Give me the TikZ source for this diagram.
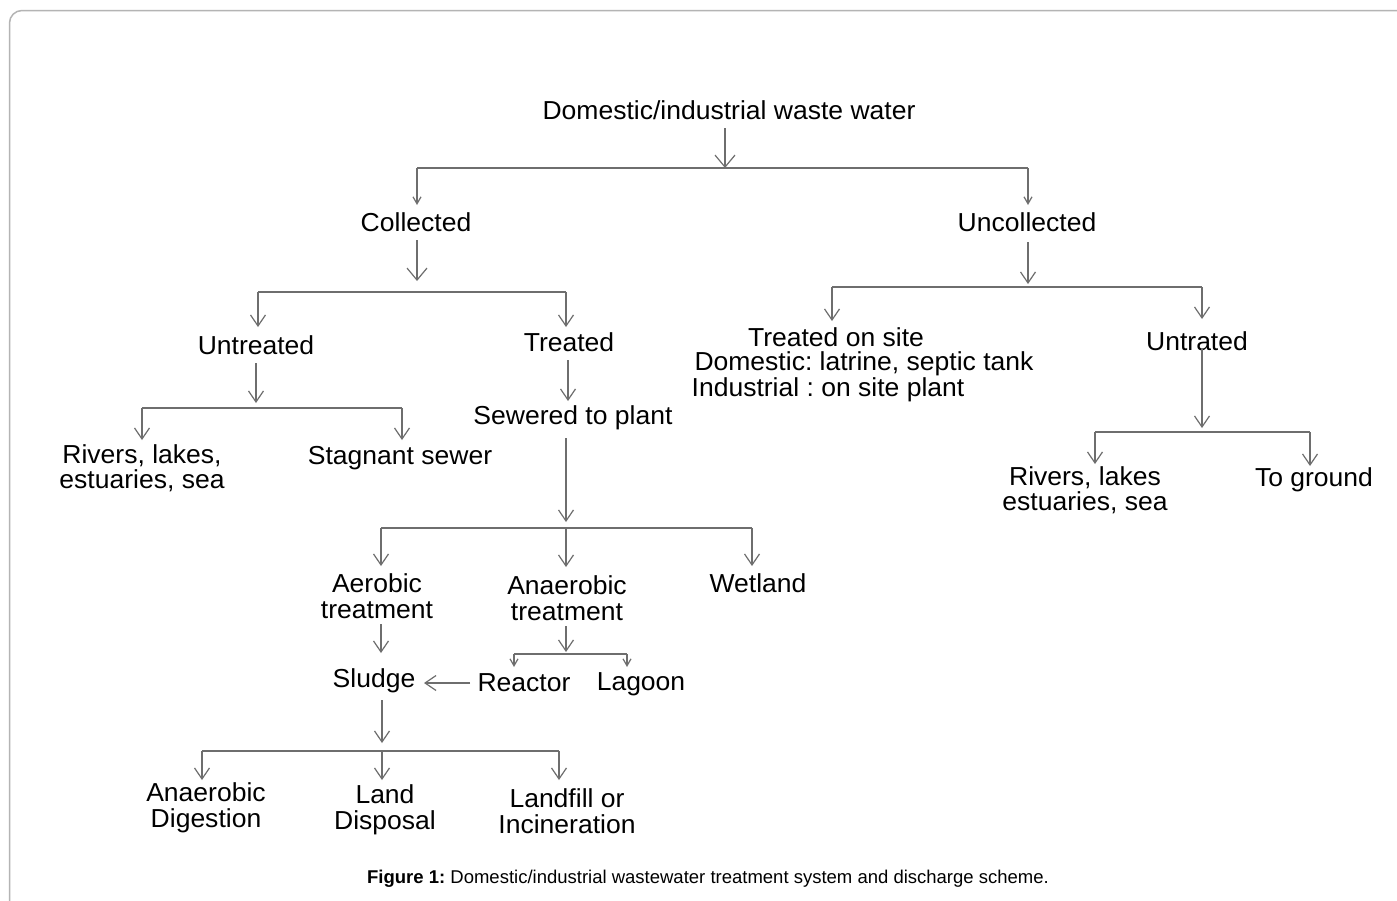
\documentclass[tikz,border=0pt]{standalone}
\usepackage{fontspec}
\setmainfont{Liberation Sans}[FakeStretch=1.02]
\newfontfamily\capfont{Liberation Sans}
\usetikzlibrary{arrows.meta}
\definecolor{ln}{HTML}{6E6E6E}
\definecolor{frm}{HTML}{B4B4B4}
\frenchspacing
\tikzset{
  lbl/.style={inner sep=0pt, align=center, font=\fontsize{26}{25.5}\selectfont},
  bus/.style={draw=ln, line width=1.3pt},
  bigarr/.style={draw=ln, line width=1.3pt, -{Straight Barb[length=12pt,width=20pt,line width=1.2pt]}},
  midarr/.style={draw=ln, line width=1.3pt, -{Straight Barb[length=11pt,width=15pt,line width=1.2pt]}},
  smallarr/.style={draw=ln, line width=1.3pt, -{Straight Barb[length=7pt,width=8pt,line width=1.2pt]}},
}
\begin{document}
\begin{tikzpicture}[x=1pt,y=-1pt]
\useasboundingbox (0,0) rectangle (1397,900);
\fill[white] (0,0) rectangle (1397,900);
% frame
\draw[frm, line width=1.5pt] (1400,10.5) -- (22,10.5) arc[start angle=270,end angle=180,radius=12.5] -- (9.5,905);

% nodes
\node[lbl] (ww) at (729,110) {Domestic/industrial waste water};
\node[lbl] (col) at (416,222) {Collected};
\node[lbl] (unc) at (1027,222) {Uncollected};
\node[lbl] (untr) at (256,345) {Untreated};
\node[lbl] (trt) at (569,342) {Treated};
\node[lbl] (riv1) at (142,468) {Rivers, lakes,\\estuaries, sea};
\node[lbl] (stag) at (400,458) {Stagnant sewer};
\node[lbl] (sew) at (573,418) {Sewered to plant};
\node[lbl] (aer) at (377,596) {Aerobic\\treatment};
\node[lbl] (ana) at (567,598) {Anaerobic\\treatment};
\node[lbl] (wet) at (758,583) {Wetland};
\node[lbl] (slu) at (374,681) {Sludge};
\node[lbl] (rea) at (524,683) {Reactor};
\node[lbl] (lag) at (641,684) {Lagoon};
\node[lbl] (ad) at (206,808) {Anaerobic\\Digestion};
\node[lbl] (ld) at (385,810) {Land\\Disposal};
\node[lbl] (li) at (567,811) {Landfill or\\Incineration};
\node[lbl] (tos1) at (836,337) {Treated on site};
\node[lbl] (tos2) at (864,364) {Domestic: latrine, septic tank};
\node[lbl] (tos3) at (828,390) {Industrial : on site plant};
\node[lbl] (untd) at (1197,341) {Untrated};
\node[lbl] (riv2) at (1085,490) {Rivers, lakes\\estuaries, sea};
\node[lbl] (tg) at (1314,480) {To ground};
\node[inner sep=0pt, font=\capfont\fontsize{18.5}{20}\selectfont] (cap) at (708,879) {\textbf{Figure 1:} Domestic/industrial wastewater treatment system and discharge scheme.};

% bus coordinates
\coordinate (b1) at (725,168); \coordinate (b1l) at (417,168); \coordinate (b1r) at (1028,168);
\coordinate (b2) at (417,292); \coordinate (b2l) at (258,292); \coordinate (b2r) at (566,292);
\coordinate (b3) at (256,408); \coordinate (b3l) at (142,408); \coordinate (b3r) at (402,408);
\coordinate (b4) at (566,528); \coordinate (b4l) at (381,528); \coordinate (b4r) at (752,528);
\coordinate (b5) at (566,654); \coordinate (b5l) at (514,654); \coordinate (b5r) at (627,654);
\coordinate (b6) at (382,751); \coordinate (b6l) at (202,751); \coordinate (b6r) at (559,751);
\coordinate (b7) at (1028,287); \coordinate (b7l) at (832,287); \coordinate (b7r) at (1202,287);
\coordinate (b8) at (1202,432); \coordinate (b8l) at (1095,432); \coordinate (b8r) at (1310,432);
\coordinate (rs) at (470,683); \coordinate (se) at (424,683);

% level 1
\draw[bigarr] (725,128) -- (b1);
\draw[bus] (b1l) -- (b1r);
\draw[smallarr] (b1l) -- (417,205);
\draw[smallarr] (b1r) -- (1028,205);
% collected
\draw[bigarr] (417,240) -- (417,281);
\draw[bus] (b2l) -- (b2r);
\draw[midarr] (b2l) -- (258,327);
\draw[midarr] (b2r) -- (566,327);
% untreated
\draw[midarr] (256,363) -- (256,403);
\draw[bus] (b3l) -- (b3r);
\draw[midarr] (b3l) -- (142,440);
\draw[midarr] (b3r) -- (402,440);
% treated
\draw[midarr] (568,360) -- (568,401);
\draw[midarr] (566,438) -- (566,522);
\draw[bus] (b4l) -- (b4r);
\draw[midarr] (b4l) -- (381,566);
\draw[midarr] (b4) -- (566,567);
\draw[midarr] (b4r) -- (752,566);
% aerobic / anaerobic
\draw[midarr] (381,624) -- (381,653);
\draw[midarr] (566,626) -- (566,652);
\draw[bus] (b5l) -- (b5r);
\draw[smallarr] (b5l) -- (514,667);
\draw[smallarr] (b5r) -- (627,667);
\draw[midarr] (rs) -- (se);
% sludge
\draw[midarr] (382,700) -- (382,743);
\draw[bus] (b6l) -- (b6r);
\draw[midarr] (b6l) -- (202,780);
\draw[midarr] (b6) -- (382,780);
\draw[midarr] (b6r) -- (559,780);
% uncollected
\draw[midarr] (1028,242) -- (1028,284);
\draw[bus] (b7l) -- (b7r);
\draw[midarr] (b7l) -- (832,321);
\draw[midarr] (b7r) -- (1202,319);
\draw[midarr] (1202,348) -- (1202,428);
\draw[bus] (b8l) -- (b8r);
\draw[midarr] (b8l) -- (1095,464);
\draw[midarr] (b8r) -- (1310,466);
\end{tikzpicture}
\end{document}
